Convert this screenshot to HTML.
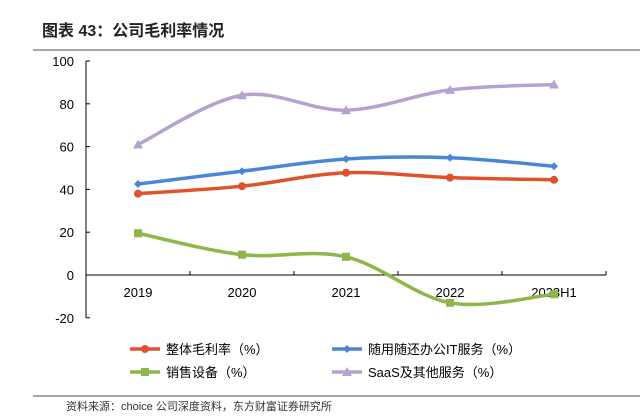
<!DOCTYPE html>
<html><head><meta charset="utf-8"><style>
body{margin:0;background:#fff;width:644px;height:415px;overflow:hidden;font-family:"Liberation Sans","Noto Sans CJK SC",sans-serif}
</style></head><body>
<svg width="644" height="415" id="c">
<text x="42" y="36" font-size="16" font-weight="bold" fill="#222" font-family="Liberation Sans,Noto Sans CJK SC,sans-serif">图表 43：公司毛利率情况</text>
<line x1="33" y1="50" x2="640" y2="50" stroke="#888" stroke-width="1.5"/>
<line x1="33" y1="396" x2="640" y2="396" stroke="#888" stroke-width="1.5"/>
<text x="66" y="410" font-size="11" fill="#333">资料来源：choice 公司深度资料，东方财富证券研究所</text>
<g id="plot"></g>
</svg>
<script>
const categories=["2019","2020","2021","2022","2023H1"];
const yTicks=[100,80,60,40,20,0,-20];
const overall=[38,41.5,47.8,45.5,44.5];
const itService=[42.5,48.5,54.2,54.8,50.8];
const sales=[19.5,9.5,8.5,-13,-9];
const saas=[61,84,77,86.5,89];
const seriesNames=["整体毛利率（%）","随用随还办公IT服务（%）","销售设备（%）","SaaS及其他服务（%）"];
const NS="http://www.w3.org/2000/svg";
const g=document.getElementById('plot');
const x0=86,x1=606,step=(x1-x0)/categories.length;
const X=i=>x0+step*(i+0.5);
const Y=v=>275-v*(214/100);
function el(t,a,p){const e=document.createElementNS(NS,t);for(const k in a)e.setAttribute(k,a[k]);(p||g).appendChild(e);return e;}
let ax=el('line',{x1:x0,y1:Y(100),x2:x0,y2:Y(-20),stroke:'#000','stroke-width':1});


yTicks.forEach(v=>{
 const t=el('line',{x1:x0,y1:Y(v),x2:x0+4,y2:Y(v),stroke:'#000'});
 
 
 const l=el('text',{x:x0-12,y:Y(v)+5,'text-anchor':'end','font-size':13,fill:'#000'});l.textContent=v;
 
 
});
let xa=el('line',{x1:x0,y1:Y(0),x2:x1,y2:Y(0),stroke:'#000'});


for(let i=0;i<=categories.length;i++){
 const t=el('line',{x1:x0+step*i,y1:Y(0),x2:x0+step*i,y2:Y(0)-4,stroke:'#000'});
 
 
}
categories.forEach((c,i)=>{
 const l=el('text',{x:X(i),y:Y(0)+22,'text-anchor':'middle','font-size':13,fill:'#000'});l.textContent=c;
 
 
});
function path(vals){
 const p=vals.map((v,i)=>[X(i),Y(v)]);let d=`M${p[0][0]},${p[0][1]}`;
 for(let i=0;i<p.length-1;i++){const a=p[i-1]||p[i],b=p[i],c=p[i+1],e=p[i+2]||c;const t=6;
  d+=` C${b[0]+(c[0]-a[0])/t},${b[1]+(c[1]-a[1])/t} ${c[0]-(e[0]-b[0])/t},${c[1]-(e[1]-b[1])/t} ${c[0]},${c[1]}`;}
 return d;}
function marker(type,x,y,col,parent){
 if(type==='circle')return el('circle',{cx:x,cy:y,r:4,fill:col},parent);
 if(type==='diamond')return el('polygon',{points:`${x},${y-4} ${x+4},${y} ${x},${y+4} ${x-4},${y}`,fill:col},parent);
 if(type==='square')return el('rect',{x:x-4,y:y-4,width:8,height:8,fill:col},parent);
 return el('polygon',{points:`${x},${y-5} ${x+5},${y+4} ${x-5},${y+4}`,fill:col},parent);
}
const series=[[overall,'#e0522a','circle','overall-margin'],[itService,'#4a86d8','diamond','it-service-margin'],[sales,'#8db64b','square','equipment-sales-margin'],[saas,'#b5a2cf','triangle','saas-margin']];
[3,2,1,0].forEach(k=>{
 const [vals,col,m,name]=series[k];
 const p=el('path',{d:path(vals),fill:'none',stroke:col,'stroke-width':3.5});
 
 
 vals.forEach((v,i)=>{const mk=marker(m,X(i),Y(v),col);
  
  });
});
const legPos=[[130,349],[332,349],[130,372],[332,372]];
series.forEach((s,k)=>{
 const [lx,ly]=legPos[k];
 const lg=el('g',{});
 
 
 el('line',{x1:lx,y1:ly,x2:lx+30,y2:ly,stroke:s[1],'stroke-width':3.5},lg);
 marker(s[2],lx+15,ly,s[1],lg);
 const t=el('text',{x:lx+36,y:ly+5,'font-size':13,fill:'#000'},lg);t.textContent=seriesNames[k];
});
</script>
</body></html>
